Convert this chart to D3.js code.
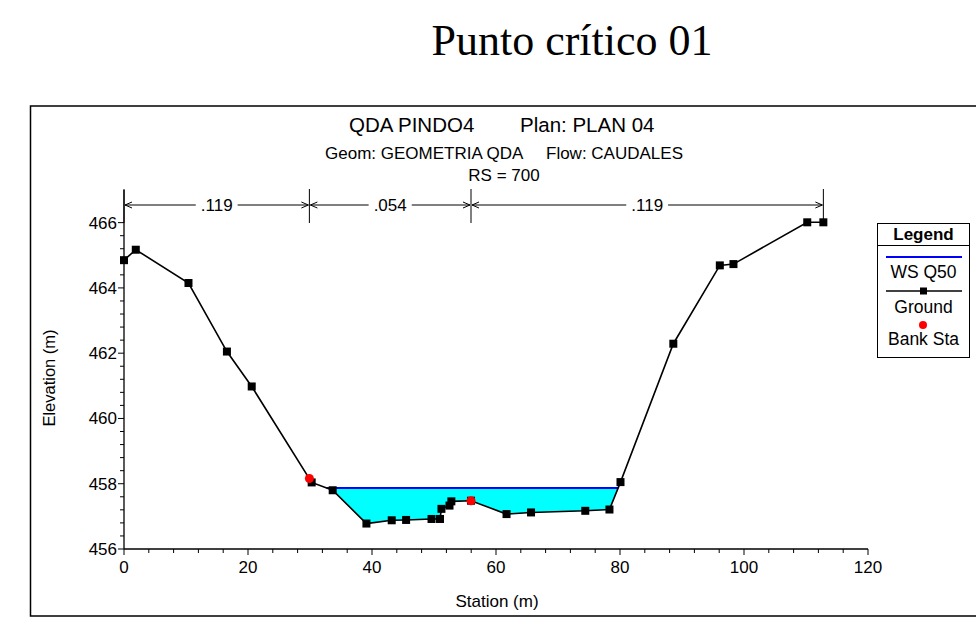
<!DOCTYPE html>
<html><head><meta charset="utf-8">
<script src="https://cdn.jsdelivr.net/npm/d3@7"></script>
<style>
html,body{margin:0;padding:0;background:#fff;}
svg{display:block;}
text{font-family:Arial,"Liberation Sans",sans-serif;fill:#000;}
</style></head>
<body>
<svg id="chart" width="976" height="630"></svg>
<script>
// ---- data ----
const groundStation = [0, 1.9, 10.4, 16.6, 20.6, 30.27, 33.66, 39.1, 43.18, 45.5, 49.6, 50.97, 51.2, 52.5, 52.8, 55.97, 61.7, 65.65, 74.4, 78.3, 80.08, 88.6, 96.1, 98.3, 110.2, 112.8];
const groundElev    = [464.85, 465.17, 464.15, 462.05, 460.98, 458.04, 457.80, 456.78, 456.88, 456.89, 456.92, 456.92, 457.23, 457.33, 457.46, 457.48, 457.07, 457.12, 457.17, 457.21, 458.05, 462.29, 464.69, 464.73, 466.01, 466.01];
const bankStation = [29.9, 55.97];
const bankElev    = [458.16, 457.48];
const wsElev = 457.87;
const manningBreaks = [0, 29.9, 55.97, 112.8];
const manningN = [".119", ".054", ".119"];
const xTicks = [0, 20, 40, 60, 80, 100, 120];
const yTicks = [456, 458, 460, 462, 464, 466];
const legendItems = ["WS Q50", "Ground", "Bank Sta"];

const svg = d3.select("#chart");
const x = d3.scaleLinear().domain([0, 120]).range([124, 868]);
const y = d3.scaleLinear().domain([456, 467]).range([549, 190]);

// page title
svg.append("text").attr("x", 572).attr("y", 55).attr("text-anchor", "middle")
  .style("font-family", "'Times New Roman','Liberation Serif',serif").style("font-size", "44px")
  .text("Punto crítico 01");

// frame
svg.append("rect").attr("x", 30.5).attr("y", 106).attr("width", 990).attr("height", 510)
  .attr("fill", "none").attr("stroke", "#000").attr("stroke-width", 1.5);

// chart titles
svg.append("text").attr("x", 349).attr("y", 132).style("font-size", "20.5px").text("QDA PINDO4");
svg.append("text").attr("x", 520).attr("y", 132).style("font-size", "20.5px").text("Plan: PLAN 04");
svg.append("text").attr("x", 325).attr("y", 159).style("font-size", "17px").text("Geom: GEOMETRIA QDA");
svg.append("text").attr("x", 546).attr("y", 159).style("font-size", "17px").text("Flow: CAUDALES");
svg.append("text").attr("x", 504).attr("y", 181).attr("text-anchor", "middle").style("font-size", "17px").text("RS = 700");

// ground points
const ground = groundStation.map((s, i) => ({s, e: groundElev[i]}));

// water polygon (ground below WS)
function waterPolys() {
  const polys = [];
  let cur = null;
  for (let i = 0; i < ground.length; i++) {
    const p = ground[i];
    const below = p.e < wsElev;
    if (i > 0) {
      const q = ground[i - 1];
      const qb = q.e < wsElev;
      if (below !== qb) {
        const t = (wsElev - q.e) / (p.e - q.e);
        const xi = q.s + t * (p.s - q.s);
        if (below) { cur = [{s: xi, e: wsElev}]; }
        else if (cur) { cur.push({s: xi, e: wsElev}); polys.push(cur); cur = null; }
      }
    }
    if (below && cur) cur.push(p);
  }
  return polys;
}
const polys = waterPolys();
const lineGen = d3.line().x(d => x(d.s)).y(d => y(d.e));
polys.forEach(pg => {
  svg.append("path").attr("d", lineGen(pg) + "Z").attr("fill", "#00ffff").attr("stroke", "none");
  svg.append("line").attr("x1", x(pg[0].s)).attr("x2", x(pg[pg.length - 1].s))
    .attr("y1", y(wsElev)).attr("y2", y(wsElev)).attr("stroke", "#0000ff").attr("stroke-width", 2);
});

// axes
const xAxis = svg.append("g").attr("transform", `translate(0,${y(456)})`);
xAxis.append("line").attr("x1", x(0)).attr("x2", x(120)).attr("stroke", "#000").attr("stroke-width", 1.3);
d3.range(0, 121, 4).forEach(v => {
  const major = v % 20 === 0;
  xAxis.append("line").attr("x1", x(v)).attr("x2", x(v)).attr("y1", 0).attr("y2", major ? 6 : 4)
    .attr("stroke", "#000").attr("stroke-width", 1);
});
xAxis.selectAll("text.xt").data(xTicks).enter().append("text")
  .attr("x", d => x(d)).attr("y", 24).attr("text-anchor", "middle").style("font-size", "17px").text(d => d);

const yAxis = svg.append("g").attr("transform", `translate(${x(0)},0)`);
yAxis.append("line").attr("y1", y(456)).attr("y2", y(467)).attr("stroke", "#000").attr("stroke-width", 1.3);
d3.range(0, 26).forEach(k => {
  const v = 456 + k * 0.4;
  const major = k % 5 === 0;
  yAxis.append("line").attr("x1", major ? -6 : -4).attr("x2", 0).attr("y1", y(v)).attr("y2", y(v))
    .attr("stroke", "#000").attr("stroke-width", 1);
});
yAxis.selectAll("text.yt").data(yTicks).enter().append("text")
  .attr("x", -7).attr("y", d => y(d) + 6).attr("text-anchor", "end").style("font-size", "17px").text(d => d);

svg.append("text").attr("x", 497).attr("y", 607).attr("text-anchor", "middle").style("font-size", "17px").text("Station (m)");
svg.append("text").attr("transform", "translate(55,378) rotate(-90)").attr("text-anchor", "middle")
  .style("font-size", "16.5px").text("Elevation (m)");

// manning n dimension lines
const dimY = 205;
manningBreaks.forEach(b => {
  svg.append("line").attr("x1", x(b)).attr("x2", x(b)).attr("y1", 189).attr("y2", 223)
    .attr("stroke", "#000").attr("stroke-width", 1);
});
manningN.forEach((n, i) => {
  const x0 = x(manningBreaks[i]), x1 = x(manningBreaks[i + 1]);
  const mid = (x0 + x1) / 2;
  const t = svg.append("text").attr("x", mid).attr("y", dimY + 6).attr("text-anchor", "middle")
    .style("font-size", "17px").text(n);
  const w = t.node().getComputedTextLength();
  const g = svg.append("g").attr("stroke", "#000").attr("stroke-width", 1).attr("fill", "none");
  g.append("line").attr("x1", x0 + 1).attr("x2", mid - w / 2 - 5).attr("y1", dimY).attr("y2", dimY);
  g.append("line").attr("x1", mid + w / 2 + 5).attr("x2", x1 - 1).attr("y1", dimY).attr("y2", dimY);
  g.append("path").attr("d", `M${x0 + 8},${dimY - 3}L${x0 + 1},${dimY}L${x0 + 8},${dimY + 3}`);
  g.append("path").attr("d", `M${x1 - 8},${dimY - 3}L${x1 - 1},${dimY}L${x1 - 8},${dimY + 3}`);
});

// ground line + markers
svg.append("path").attr("d", lineGen(ground)).attr("fill", "none").attr("stroke", "#000").attr("stroke-width", 1.6);
svg.selectAll("rect.gm").data(ground).enter().append("rect")
  .attr("x", d => x(d.s) - 4).attr("y", d => y(d.e) - 4).attr("width", 8).attr("height", 8).attr("fill", "#000");

// bank stations
svg.selectAll("circle.bk").data(bankStation).enter().append("circle")
  .attr("cx", d => x(d)).attr("cy", (d, i) => y(bankElev[i])).attr("r", 4.5).attr("fill", "#ff0000");

// legend
const lg = svg.append("g");
lg.append("rect").attr("x", 877.5).attr("y", 223.5).attr("width", 92).attr("height", 134)
  .attr("fill", "#fff").attr("stroke", "#000").attr("stroke-width", 1);
lg.append("line").attr("x1", 877.5).attr("x2", 969.5).attr("y1", 245.5).attr("y2", 245.5).attr("stroke", "#000");
lg.append("text").attr("x", 923.5).attr("y", 240).attr("text-anchor", "middle")
  .style("font-size", "17px").style("font-weight", "bold").text("Legend");
lg.append("line").attr("x1", 886).attr("x2", 962).attr("y1", 257).attr("y2", 257).attr("stroke", "#0000ff").attr("stroke-width", 2);
lg.append("text").attr("x", 923.5).attr("y", 278).attr("text-anchor", "middle").style("font-size", "17.5px").text(legendItems[0]);
lg.append("line").attr("x1", 886).attr("x2", 962).attr("y1", 291).attr("y2", 291).attr("stroke", "#000").attr("stroke-width", 1.6);
lg.append("rect").attr("x", 920).attr("y", 287.5).attr("width", 7).attr("height", 7).attr("fill", "#000");
lg.append("text").attr("x", 923.5).attr("y", 313).attr("text-anchor", "middle").style("font-size", "17.5px").text(legendItems[1]);
lg.append("circle").attr("cx", 923).attr("cy", 325).attr("r", 4).attr("fill", "#ff0000");
lg.append("text").attr("x", 923.5).attr("y", 345).attr("text-anchor", "middle").style("font-size", "17.5px").text(legendItems[2]);
</script>
</body></html>
